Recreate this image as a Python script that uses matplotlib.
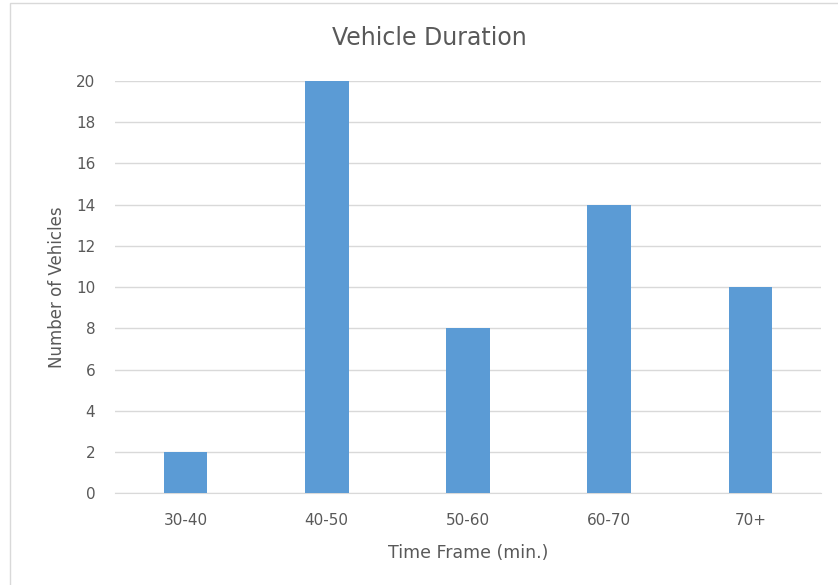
import matplotlib
matplotlib.use('Agg')
import matplotlib.pyplot as plt
import numpy as np
from matplotlib.patches import Rectangle

# Vehicle duration data
categories = ['30-40', '40-50', '50-60', '60-70', '70+']
vehicles = [2, 20, 8, 14, 10]

fig = plt.figure(figsize=(8.38, 5.85), dpi=100)
ax = fig.add_axes([0.137, 0.157, 0.843, 0.7045])

ind = np.arange(len(categories))
ax.bar(ind, vehicles, 0.31, color='#5b9bd5', zorder=3)

ax.set_xlim(-0.5, len(categories) - 0.5)
ax.set_ylim(0, 20)
ax.set_yticks(np.arange(0, 21, 2))
ax.set_xticks(ind)
ax.set_xticklabels(categories)

ax.grid(axis='y', color='#d9d9d9', linewidth=1, zorder=0)
for s in ['top', 'right', 'left']:
    ax.spines[s].set_visible(False)
ax.spines['bottom'].set_color('#d9d9d9')
ax.tick_params(axis='both', length=0, colors='#595959', labelsize=11)
ax.tick_params(axis='y', pad=14)
ax.tick_params(axis='x', pad=14)

ax.set_ylabel('Number of Vehicles', color='#595959', fontsize=12, labelpad=7)
ax.set_xlabel('Time Frame (min.)', color='#595959', fontsize=12.5, labelpad=12)
fig.text(429 / 838, 1 - 38 / 585, 'Vehicle Duration', ha='center', va='center',
         fontsize=17, color='#595959')

# light chart border like the Excel frame
fig.patches.append(Rectangle((10 / 838, -0.02), 1.0, 1 - 2.5 / 585 + 0.02,
                             transform=fig.transFigure, fill=False,
                             edgecolor='#d9d9d9', linewidth=1))

plt.savefig('out.png', dpi=100)
